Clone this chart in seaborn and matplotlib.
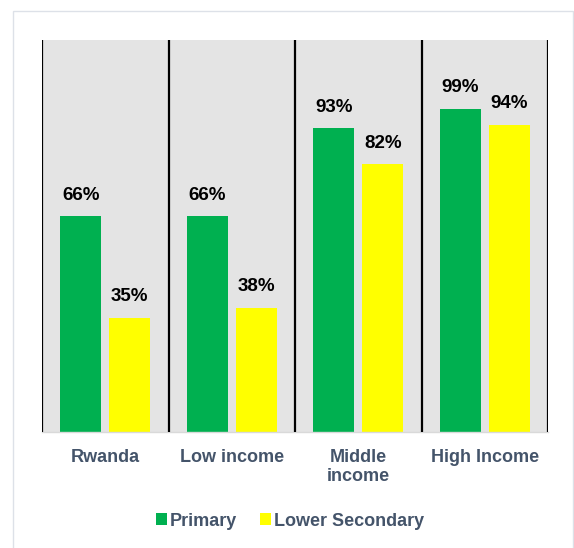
import matplotlib
matplotlib.use("Agg")
import matplotlib.pyplot as plt
import seaborn as sns
import pandas as pd
from matplotlib.patches import Rectangle

# Completion rates by income group
categories = ["Rwanda", "Low income", "Middle\nincome", "High Income"]
primary = [66, 66, 93, 99]
lower_secondary = [35, 38, 82, 94]
series_names = ["Primary", "Lower Secondary"]
colors = ["#00B050", "#FFFF00"]

df = pd.DataFrame({
    "group": categories * 2,
    "level": [series_names[0]] * 4 + [series_names[1]] * 4,
    "value": primary + lower_secondary,
})

sns.set_theme(style="white")
plt.rcParams["font.family"] = ["Liberation Sans", "DejaVu Sans"]

fig = plt.figure(figsize=(5.74, 5.48), dpi=100)
# light frame around the chart
fig.add_artist(Rectangle((13 / 574, -0.01), 0.999 - 13 / 574, 1 - 11 / 548 + 0.01,
                         transform=fig.transFigure, fill=False,
                         edgecolor="#DDE1E8", linewidth=1.0))

ax = fig.add_axes([42 / 574, 1 - 432 / 548, 506 / 574, 392 / 548])
ax.set_facecolor("#E4E4E4")

sns.barplot(data=df, x="group", y="value", hue="level", order=categories,
            hue_order=series_names, palette=colors, width=0.775, gap=0.163,
            ax=ax, legend=False, saturation=1, linewidth=0, edgecolor="none")

for container in ax.containers:
    ax.bar_label(container, labels=[f"{v:.0f}%" for v in container.datavalues],
                 padding=9, fontsize=13.5, fontweight="bold", color="black")

ax.set_ylim(0, 120)
ax.set_xlim(-0.5, 3.5)
for xv in [-0.5, 0.5, 1.5, 2.5, 3.5]:
    ax.axvline(xv, color="black", linewidth=1.6, zorder=3)

for s in ["top", "left", "right"]:
    ax.spines[s].set_visible(False)
ax.spines["bottom"].set_color("#D9D9D9")
ax.spines["bottom"].set_linewidth(1.0)

ax.set_yticks([])
ax.set_xlabel("")
ax.set_ylabel("")
ax.tick_params(axis="x", length=0, pad=12)
for lab in ax.get_xticklabels():
    lab.set_fontsize(13)
    lab.set_fontweight("bold")
    lab.set_color("#44546A")
    lab.set_linespacing(1.2)

handles = [Rectangle((0, 0), 1, 1, facecolor=c, edgecolor="none") for c in colors]
leg = fig.legend(handles, series_names, loc="center", bbox_to_anchor=(290 / 574, 1 - 521 / 548),
                 ncol=2, frameon=False, handlelength=0.6, handleheight=0.6,
                 handletextpad=0.15, columnspacing=1.3,
                 prop={"size": 13, "weight": "bold"})
for t in leg.get_texts():
    t.set_color("#44546A")

fig.savefig("out.png", dpi=100)
